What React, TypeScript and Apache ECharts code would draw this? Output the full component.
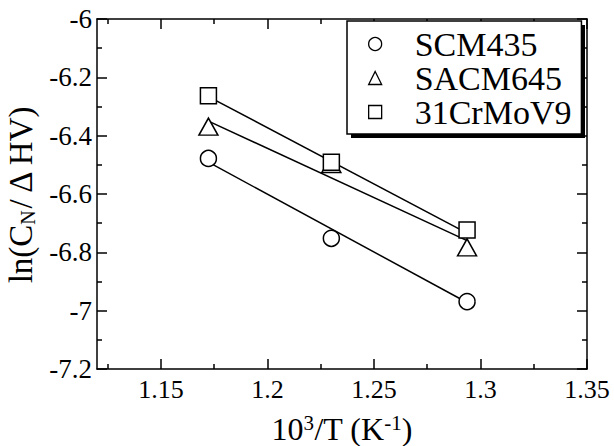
import React, { useEffect, useRef } from 'react';
import * as echarts from 'echarts';

// ---- data ----
const xValues = [1.1723, 1.23, 1.2937]; // 10^3/T (K^-1)
const scm435 = [-6.478, -6.752, -6.969];
const sacm645 = [-6.369, -6.497, -6.783];
const crMoV9 = [-6.263, -6.491, -6.723];

// fitted straight lines (end points)
const fitX = [1.1723, 1.2937];
const scm435Fit = [-6.491, -6.972];
const sacm645Fit = [-6.35, -6.76];
const crMoV9Fit = [-6.266, -6.734];

// axis ticks
const xMajor = [1.15, 1.2, 1.25, 1.3, 1.35];
const xMinor = [1.125, 1.175, 1.225, 1.275, 1.325];
const seriesNames = ['SCM435', 'SACM645', '31CrMoV9'];

const font = "'Liberation Serif', 'Times New Roman', serif";
const black = '#000';

function pairs(xs: number[], ys: number[]) {
  return xs.map((x, i) => [x, ys[i]]);
}

export default function App() {
  const ref = useRef<HTMLDivElement>(null);
  useEffect(() => {
    const chart = echarts.init(ref.current!, null, { renderer: 'svg' });
    const axisLine = { show: true, onZero: false, lineStyle: { color: black, width: 1.5 } };
    const tickStyle = { color: black, width: 1.5 };
    const xBase = { type: 'value', min: 1.12, max: 1.35, splitLine: { show: false }, gridIndex: 0 };
    const markerStyle = { color: '#fff', borderColor: black, borderWidth: 1.5, opacity: 1 };

    const option: any = {
      animation: false,
      backgroundColor: '#fff',
      grid: { left: 97, right: 27, top: 19, bottom: 77, containLabel: false, outerBoundsMode: 'none' },
      xAxis: [
        {
          ...xBase,
          position: 'bottom',
          axisLine,
          axisTick: { show: true, inside: true, length: 10, lineStyle: tickStyle, customValues: xMajor },
          axisLabel: {
            show: true,
            customValues: xMajor,
            fontSize: 26,
            color: black,
            fontFamily: font,
            margin: 7,
            formatter: (v: number) => String(v),
          },
          name: '{a|10}{s|3}{a|/T (K}{s|-1}{a|)}',
          nameLocation: 'middle',
          nameGap: 43,
          nameTextStyle: {
            rich: {
              a: { fontSize: 32, fontFamily: font, color: black, lineHeight: 34 },
              s: { fontSize: 21, fontFamily: font, color: black, verticalAlign: 'top', lineHeight: 18 },
            },
          },
        },
        {
          ...xBase,
          position: 'top',
          axisLine,
          axisTick: { show: true, inside: true, length: 10, lineStyle: tickStyle, customValues: xMajor },
          axisLabel: { show: false },
        },
        {
          ...xBase,
          position: 'bottom',
          axisLine: { show: false },
          axisTick: { show: true, inside: true, length: 5, lineStyle: tickStyle, customValues: xMinor },
          axisLabel: { show: false },
        },
        {
          ...xBase,
          position: 'top',
          axisLine: { show: false },
          axisTick: { show: true, inside: true, length: 5, lineStyle: tickStyle, customValues: xMinor },
          axisLabel: { show: false },
        },
      ],
      yAxis: [
        {
          type: 'value',
          position: 'left',
          min: -7.2,
          max: -6,
          interval: 0.2,
          axisLine,
          axisTick: { show: true, inside: true, length: 10, lineStyle: tickStyle },
          minorTick: { show: true, splitNumber: 2, length: 5, lineStyle: tickStyle },
          splitLine: { show: false },
          minorSplitLine: { show: false },
          axisLabel: { fontSize: 27, color: black, fontFamily: font, margin: 5 },
          name: '{a|ln(C}{b|N}{a|/ Δ HV)}',
          nameLocation: 'middle',
          nameRotate: 90,
          nameGap: 55,
          nameTextStyle: {
            rich: {
              a: { fontSize: 33, fontFamily: font, color: black, lineHeight: 34 },
              b: { fontSize: 20, fontFamily: font, color: black, verticalAlign: 'bottom', lineHeight: 20 },
            },
          },
        },
        {
          type: 'value',
          position: 'right',
          min: -7.2,
          max: -6,
          interval: 0.2,
          axisLine,
          axisTick: { show: true, inside: true, length: 10, lineStyle: tickStyle },
          minorTick: { show: true, splitNumber: 2, length: 5, lineStyle: tickStyle },
          splitLine: { show: false },
          minorSplitLine: { show: false },
          axisLabel: { show: false },
        },
      ],
      legend: {
        orient: 'vertical',
        left: 347,
        top: 21,
        data: [
          { name: seriesNames[0], icon: 'circle' },
          { name: seriesNames[1], icon: 'triangle' },
          { name: seriesNames[2], icon: 'rect' },
        ],
        itemWidth: 13,
        itemHeight: 13,
        itemGap: 0,
        padding: [6, 10, 5, 21],
        backgroundColor: '#fff',
        borderColor: black,
        borderWidth: 1.5,
        selectedMode: false,
        textStyle: { fontSize: 34, fontFamily: font, color: black, lineHeight: 34, padding: [0, 0, 0, 28] },
        itemStyle: { color: '#fff', borderColor: black, borderWidth: 1.3 },
        z: 10,
      },
      graphic: [
        {
          type: 'rect',
          left: 351,
          top: 25,
          shape: { width: 234, height: 113 },
          style: { fill: black },
          z: 9,
          silent: true,
        },
      ],
      series: [
        { type: 'line', name: 'SCM435 fit', data: pairs(fitX, scm435Fit), symbol: 'none', lineStyle: { color: black, width: 1.5 }, z: 1, silent: true },
        { type: 'line', name: 'SACM645 fit', data: pairs(fitX, sacm645Fit), symbol: 'none', lineStyle: { color: black, width: 1.5 }, z: 1, silent: true },
        { type: 'line', name: '31CrMoV9 fit', data: pairs(fitX, crMoV9Fit), symbol: 'none', lineStyle: { color: black, width: 1.5 }, z: 1, silent: true },
        { type: 'scatter', name: seriesNames[0], symbol: 'circle', symbolSize: 16, data: pairs(xValues, scm435), itemStyle: markerStyle, z: 3 },
        { type: 'scatter', name: seriesNames[1], symbol: 'triangle', symbolSize: [19, 17], data: pairs(xValues, sacm645), itemStyle: markerStyle, z: 4 },
        { type: 'scatter', name: seriesNames[2], symbol: 'rect', symbolSize: 16, data: pairs(xValues, crMoV9), itemStyle: markerStyle, z: 5 },
      ],
    };
    chart.setOption(option);
    return () => chart.dispose();
  }, []);
  return <div ref={ref} style={{ width: 614, height: 446, position: 'absolute', left: 0, top: 0 }} />;
}
